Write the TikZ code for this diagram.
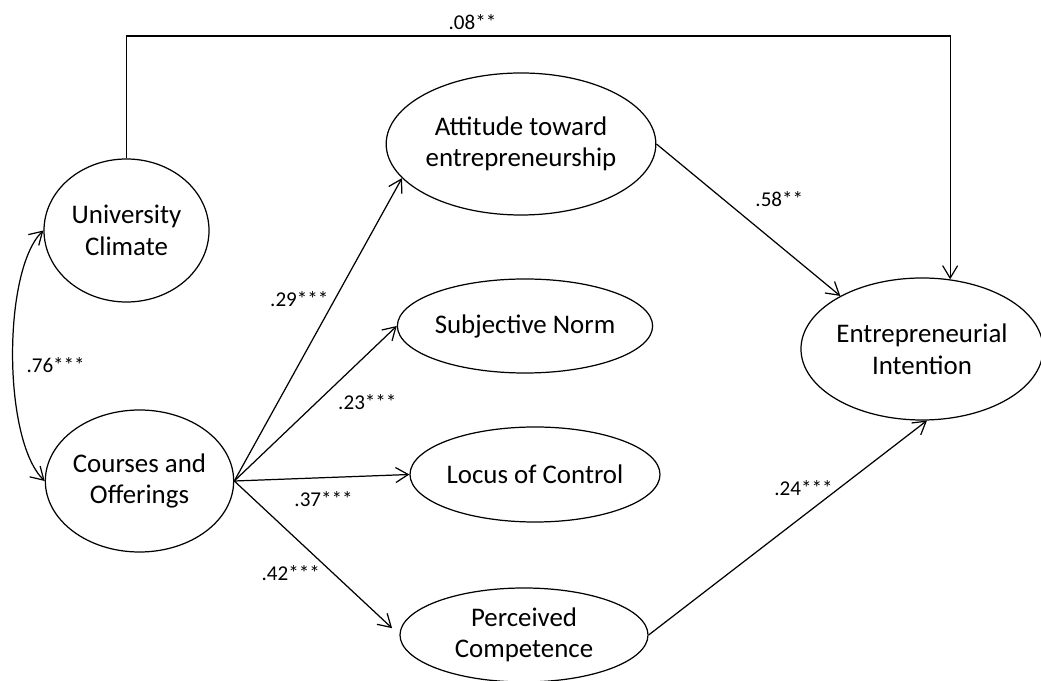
\documentclass[tikz,border=0pt]{standalone}
\usepackage{fontspec}
\setmainfont{Carlito}
\usetikzlibrary{shapes.geometric,arrows.meta}

\begin{document}
\begin{tikzpicture}[
    construct/.style={ellipse, draw, line width=0.7pt, inner sep=0pt, align=center,
        font=\fontsize{15.3}{18}\selectfont},
    effect/.style={line width=0.7pt, -{Straight Barb[length=2.5mm,width=3mm]}},
    coef/.style={font=\fontsize{12}{13}\selectfont}]
    \useasboundingbox (0,0) rectangle (20.82,13.6);
    \coordinate (TopLine) at (0,12.88);
    % latent constructs
    \node[construct, minimum width=3.3cm,  minimum height=2.86cm] (UnivClimate) at (2.53,8.99)  {University\\Climate};
    \node[construct, minimum width=3.26cm, minimum height=2.84cm] (Courses)     at (2.79,3.98)  {Courses and\\Offerings};
    \node[construct, minimum width=5.24cm, minimum height=2.84cm] (Attitude)    at (10.42,10.72) {Attitude toward\\entrepreneurship};
    \node[construct, minimum width=5.0cm,  minimum height=1.88cm] (SubjNorm)    at (10.5,7.08)  {Subjective Norm};
    \node[construct, minimum width=5.0cm,  minimum height=1.9cm]  (Locus)       at (10.7,4.11)  {Locus of Control};
    \node[construct, minimum width=4.96cm, minimum height=1.88cm] (Competence)  at (10.48,0.9)  {Perceived\\Competence};
    \node[construct, minimum width=4.7cm,  minimum height=2.84cm] (Intention)   at (18.44,6.62) {Entrepreneurial\\Intention};
    % paths
    \draw [effect] (UnivClimate.north) -- (UnivClimate.north |- TopLine) -| node[coef, pos=0.21, above] (lDirect) {.08**} (Intention.68);
    \draw [effect, {Straight Barb[length=2.5mm,width=3mm]}-{Straight Barb[length=2.5mm,width=3mm]}] (UnivClimate.west) .. controls (0.05,8.2) and (0.05,4.8) .. node[coef, pos=0.53, right=4pt] (lCorr) {.76***} (Courses.west);
    \draw [effect] (Courses.east) -- (Attitude.196) node[coef, pos=0.6, left] (lAtt) {.29***};
    \draw [effect] (Courses.east) -- (SubjNorm.west) node[coef, pos=0.6, below right] (lNorm) {.23***};
    \draw [effect] (Courses.east) -- (Locus.west) node[coef, pos=0.51, below=4pt] (lLocus) {.37***};
    \draw [effect, shorten >=2mm] (Courses.east) -- (Competence.west) node[coef, pos=0.6, left=4pt] (lComp) {.42***};
    \draw [effect] (Attitude.east) -- (Intention.147) node[coef, pos=0.36, right=15pt] (lAttInt) {.58**};
    \draw [effect] (Competence.east) -- (Intention.274) node[coef, pos=0.684, left] (lCompInt) {.24***};
\end{tikzpicture}
\end{document}
